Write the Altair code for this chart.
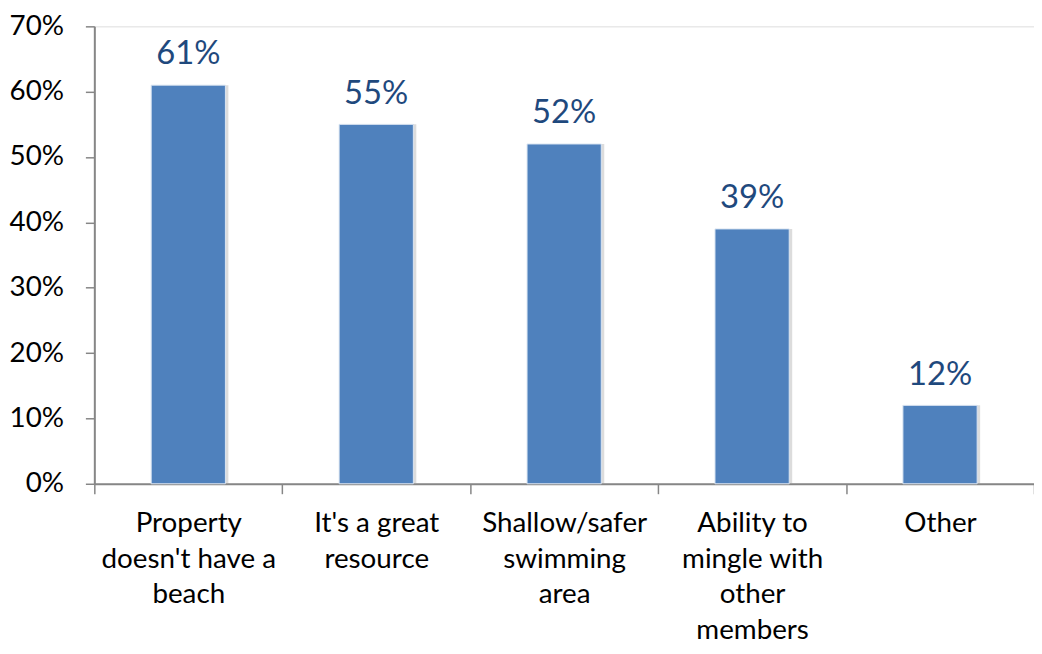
import altair as alt
import pandas as pd

categories = ["Property|doesn't have a|beach", "It's a great|resource", "Shallow/safer|swimming|area",
              "Ability to|mingle with|other|members", "Other"]
values = [0.61, 0.55, 0.52, 0.39, 0.12]
labels = ["61%", "55%", "52%", "39%", "12%"]

df = pd.DataFrame({"cat": categories, "value": values, "label": labels})

FONT = "Lato"

x = alt.X("cat:N", sort=categories, title=None,
          scale=alt.Scale(paddingInner=0, paddingOuter=0),
          axis=alt.Axis(labelExpr="split(datum.label, '|')", labelAngle=0, labelFont=FONT,
                        labelFontSize=28, labelColor="#000000", labelLineHeight=36,
                        labelBaseline="top", labelPadding=16, tickBand="extent", tickSize=10,
                        tickColor="#868686", domainColor="#868686", domainWidth=2, tickWidth=1.5,
                        labelLimit=400))
y = alt.Y("value:Q", title=None,
          scale=alt.Scale(domain=[0, 0.7]),
          axis=alt.Axis(values=[0, 0.1, 0.2, 0.3, 0.4, 0.5, 0.6, 0.7], format=".0%", grid=False,
                        labelFont=FONT, labelFontSize=28, labelColor="#000000", labelPadding=22,
                        tickSize=9, tickColor="#868686", domainColor="#868686", domainWidth=2,
                        tickWidth=1.5))

BW = alt.RelativeBandSize(0.395)
base = alt.Chart(df)
shadow = base.mark_bar(color="#9a9a9a", opacity=0.35, xOffset=3, width=BW).encode(x=x, y=y)
bars = base.mark_bar(color="#4F81BD", stroke="#dce6f2", strokeWidth=1, width=BW).encode(x=x, y=y)
text = base.mark_text(font=FONT, fontSize=33, color="#1F497D", dy=-21, baseline="alphabetic").encode(
    x=x, y=y, text="label:N")

chart = alt.layer(shadow, bars, text).properties(
    width=947, height=461,
    autosize=alt.AutoSizeParams(type="none"),
    padding={"left": 87, "top": 16, "right": 0, "bottom": 161},
).configure_view(stroke=None).configure(background="white")

chart.save("out.html", embed_options={"renderer": "svg", "actions": False})
